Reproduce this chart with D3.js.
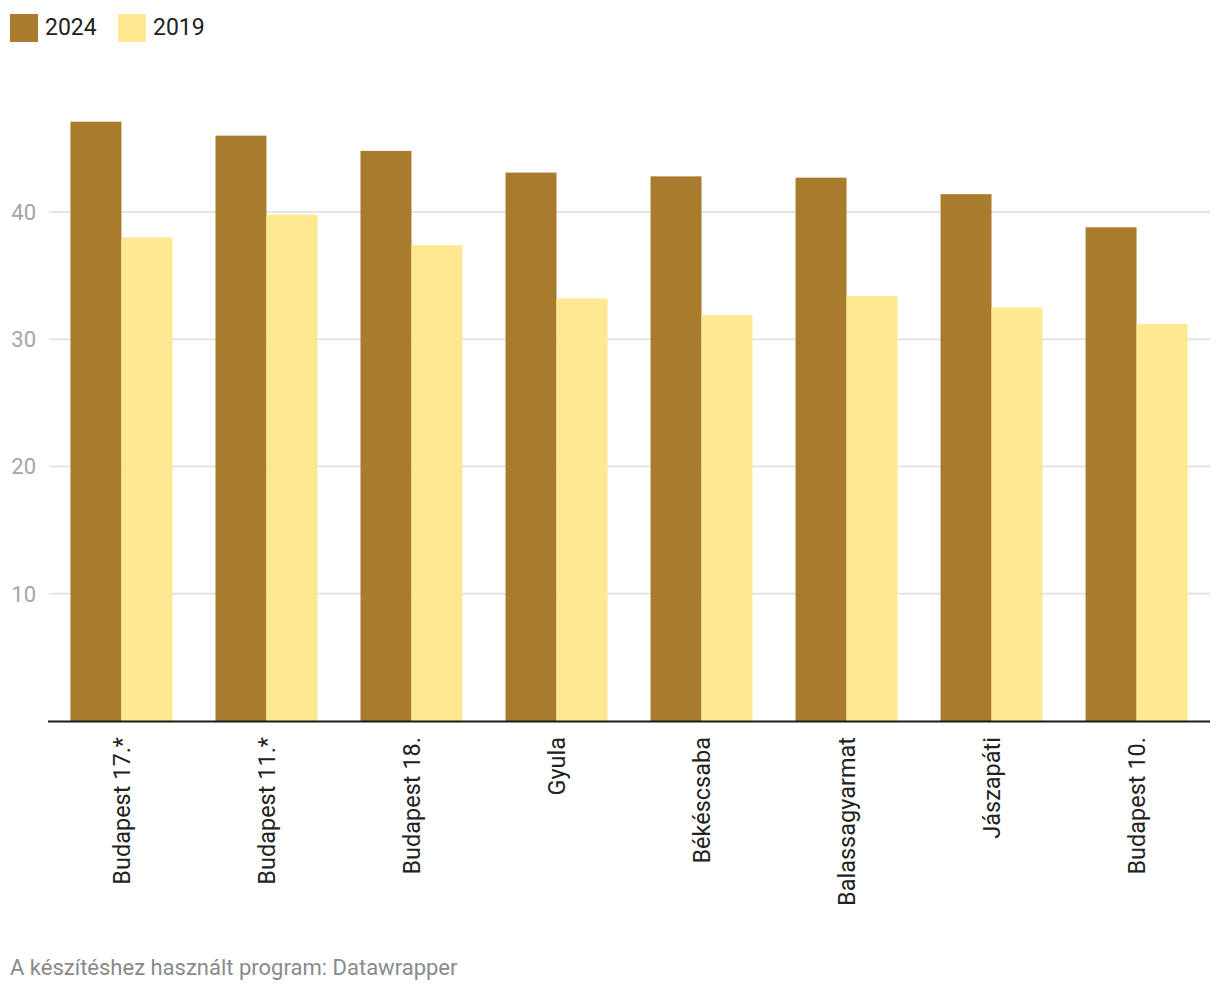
<!DOCTYPE html>
<html>
<head>
<meta charset="utf-8">
<script src="https://cdn.jsdelivr.net/npm/d3@7"></script>
<style>
  html, body { margin: 0; padding: 0; background: #fff; }
  svg { display: block; font-family: Roboto, "Noto Sans", sans-serif; }
</style>
</head>
<body>
<svg id="chart" width="1220" height="992"></svg>
<script>
const categories = ["Budapest 17.*", "Budapest 11.*", "Budapest 18.", "Gyula", "Békéscsaba", "Balassagyarmat", "Jászapáti", "Budapest 10."];
const seriesNames = ["2024", "2019"];
const values2024 = [47.1, 46.0, 44.8, 43.1, 42.8, 42.7, 41.4, 38.8];
const values2019 = [38.0, 39.8, 37.4, 33.2, 31.9, 33.4, 32.5, 31.2];
const yTicks = [10, 20, 30, 40];
const colors = ["#a97c2d", "#fee892"];
const footerText = "A készítéshez használt program: Datawrapper";

const seriesValues = [values2024, values2019];
const data = categories.map((c, i) => ({ cat: c, vals: seriesNames.map((s, j) => ({ key: s, value: seriesValues[j][i], ci: j })) }));

const svg = d3.select("#chart");
const left = 48, right = 1210, baseY = 721;

const y = d3.scaleLinear().domain([0, 40]).range([baseY, 212]);
const x0 = d3.scaleBand().domain(categories).range([left, right]).paddingInner(0.297).paddingOuter(0.155);
const x1 = d3.scaleBand().domain(seriesNames).range([0, x0.bandwidth()]).padding(0);

// gridlines
svg.append("g").selectAll("line").data(yTicks).join("line")
  .attr("x1", left + 1).attr("x2", right)
  .attr("y1", d => y(d)).attr("y2", d => y(d))
  .attr("stroke", "#e4e4e4").attr("stroke-width", 2);

// y tick labels
svg.append("g").selectAll("text").data(yTicks).join("text")
  .attr("x", 36).attr("y", d => y(d)).attr("dy", "0.36em")
  .attr("text-anchor", "end")
  .attr("font-size", 22).attr("fill", "#a5a5a5")
  .text(d => d);

// bars
const groups = svg.append("g").selectAll("g").data(data).join("g")
  .attr("transform", d => `translate(${x0(d.cat)},0)`);
groups.selectAll("rect").data(d => d.vals).join("rect")
  .attr("x", d => x1(d.key))
  .attr("width", x1.bandwidth())
  .attr("y", d => y(d.value))
  .attr("height", d => y(0) - y(d.value))
  .attr("fill", d => colors[d.ci]);

// baseline
svg.append("line")
  .attr("x1", left).attr("x2", right)
  .attr("y1", y(0) + 0.5).attr("y2", y(0) + 0.5)
  .attr("stroke", "#1a1a1a").attr("stroke-width", 2);

// category labels
svg.append("g").selectAll("text").data(categories).join("text")
  .attr("transform", d => `translate(${x0(d) + x0.bandwidth() / 2},737) rotate(-90)`)
  .attr("dy", "0.35em")
  .attr("text-anchor", "end")
  .attr("font-size", 23.5).attr("fill", "#222")
  .text(d => d);

// legend
const legendX = [10, 118];
const lg = svg.append("g").selectAll("g").data(seriesNames).join("g")
  .attr("transform", (d, i) => `translate(${legendX[i]},14)`);
lg.append("rect").attr("width", 28).attr("height", 28).attr("fill", (d, i) => colors[i]);
lg.append("text").attr("x", 35).attr("y", 20.5)
  .attr("font-size", 23).attr("fill", "#222").text(d => d);

// footer
svg.append("text").attr("x", 10).attr("y", 975)
  .attr("font-size", 22).attr("fill", "#8a8a8a")
  .text(footerText);
</script>
</body>
</html>
